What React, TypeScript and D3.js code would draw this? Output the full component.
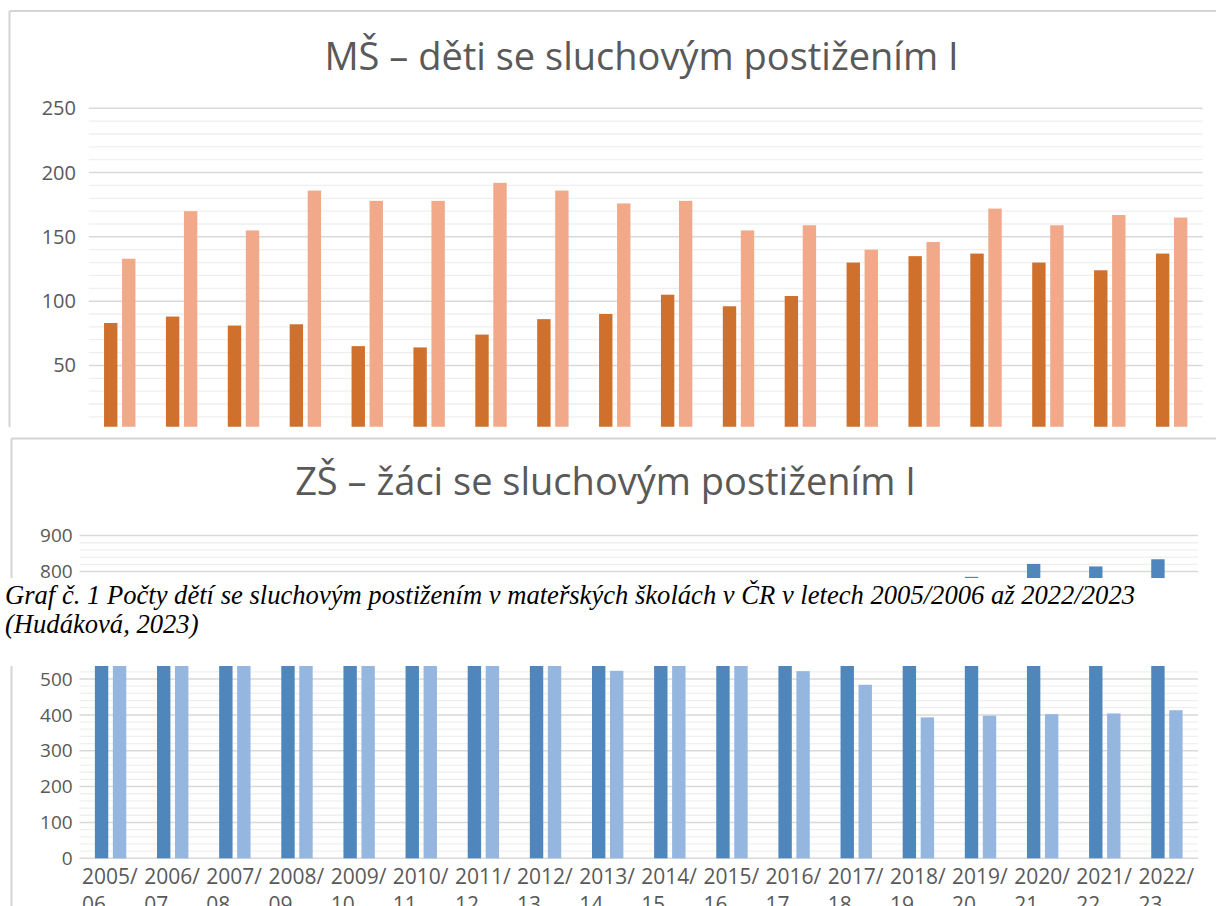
import React from 'react';
import * as d3 from 'd3';

const categories = ['2005/06','2006/07','2007/08','2008/09','2009/10','2010/11','2011/12','2012/13','2013/14','2014/15','2015/16','2016/17','2017/18','2018/19','2019/20','2020/21','2021/22','2022/23'];
const msDark = [83,88,81,82,65,64,74,86,90,105,96,104,130,135,137,130,124,137];
const msLight = [133,170,155,186,178,178,192,186,176,178,155,159,140,146,172,159,167,165];
const zsDark = [712,698,686,671,655,648,652,661,668,689,701,716,734,757,785,821,814,834];
const zsLight = [622,610,597,585,576,570,566,559,523,551,545,522,484,393,398,402,404,413];
const msTicks = [50,100,150,200,250];
// 600 and 700 lie under the caption band, so only the visible labels are listed
const zsTicks = [0,100,200,300,400,500,800,900];
const msTitle = 'MŠ – děti se sluchovým postižením I';
const zsTitle = 'ZŠ – žáci se sluchovým postižením I';
const captionLine1 = 'Graf č. 1 Počty dětí se sluchovým postižením v mateřských školách v ČR v letech 2005/2006 až 2022/2023';
const captionLine2 = '(Hudáková, 2023)';

const TEXT = '#595959';
const MAJOR = '#d9d9d9';
const MINOR = '#efefef';
const BORDER = '#d4d4d4';
const FONT = '"Open Sans", sans-serif';

function Chart({dark, light, colors, x0, x1, y0, y1, vmax, majorStep, ticks, minorStep, labelX, labelSize, clipBottom, id}) {
  const x = d3.scaleBand().domain(categories).range([x0, x1]).paddingInner(0).paddingOuter(0);
  const groupW = 31.4;
  const xs = d3.scaleBand().domain(['a','b']).range([-groupW/2, groupW/2]).paddingInner(0.256);
  const y = d3.scaleLinear().domain([0, vmax]).range([y0, y1]);
  const majors = d3.range(0, vmax + 0.001, majorStep);
  const minors = d3.range(0, vmax + 0.001, minorStep).filter(v => v % majorStep !== 0);
  return (
    <g clipPath={clipBottom ? `url(#${id})` : undefined}>
      {clipBottom ? (
        <defs>
          <clipPath id={id}><rect x={0} y={0} width={1216} height={clipBottom} /></clipPath>
        </defs>
      ) : null}
      {minors.map(v => (
        <line key={'m'+v} x1={x0} x2={x1} y1={y(v)} y2={y(v)} stroke={MINOR} strokeWidth={1.3} />
      ))}
      {majors.map(v => (
        <line key={'M'+v} x1={x0} x2={x1} y1={y(v)} y2={y(v)} stroke={MAJOR} strokeWidth={1.5} />
      ))}
      {ticks.map(v => (
        <text key={'t'+v} x={labelX} y={y(v)} dy="0.35em" textAnchor="end" fontFamily={FONT} fontSize={labelSize} fill={TEXT}>{v}</text>
      ))}
      {categories.map((c, i) => {
        const cx = (x(c) as number) + x.bandwidth()/2;
        return (
          <g key={c}>
            <rect x={cx + (xs('a') as number)} width={xs.bandwidth()} y={y(dark[i])} height={y(0) - y(dark[i])} fill={colors[0]} />
            <rect x={cx + (xs('b') as number)} width={xs.bandwidth()} y={y(light[i])} height={y(0) - y(light[i])} fill={colors[1]} />
          </g>
        );
      })}
    </g>
  );
}

export default function App() {
  const zx = d3.scaleBand().domain(categories).range([79.5, 1198]);
  return (
    <svg width={1216} height={906} style={{position: 'absolute', left: 0, top: 0, background: '#fff'}}>
      <rect x={0} y={0} width={1216} height={906} fill="#fff" />
      {/* MŠ panel */}
      <line x1={9.5} x2={1216} y1={11} y2={11} stroke={BORDER} strokeWidth={2} />
      <line x1={9.5} x2={9.5} y1={11} y2={427} stroke={BORDER} strokeWidth={2} />
      <text x={641.5} y={69.5} textAnchor="middle" fontFamily={FONT} fontSize={38} fill={TEXT}>{msTitle}</text>
      <Chart id="clipMs" dark={msDark} light={msLight} colors={['#d0702d', '#f1a98a']}
        x0={88.8} x1={1202.6} y0={429.7} y1={108.3} vmax={250} majorStep={50} ticks={msTicks} minorStep={10}
        labelX={76} labelSize={20} clipBottom={426.7} />

      {/* ZŠ panel */}
      <line x1={11.5} x2={1216} y1={438.5} y2={438.5} stroke={BORDER} strokeWidth={2} />
      <line x1={11.5} x2={11.5} y1={438.5} y2={906} stroke={BORDER} strokeWidth={2} />
      <text x={605.5} y={494.5} textAnchor="middle" fontFamily={FONT} fontSize={38} fill={TEXT}>{zsTitle}</text>
      <Chart id="clipZs" dark={zsDark} light={zsLight} colors={['#4f87bd', '#95b7df']}
        x0={79.5} x1={1198} y0={858.3} y1={535.6} vmax={900} majorStep={100} ticks={zsTicks} minorStep={20}
        labelX={72.7} labelSize={19} clipBottom={0} />
      {categories.map(c => {
        const cx = (zx(c) as number) + zx.bandwidth()/2;
        const [a, b] = c.split('/');
        return (
          <g key={'xl'+c} fontFamily={FONT} fontSize={21} fill={TEXT}>
            <text x={cx - 28.5} y={883.5}>{a + '/'}</text>
            <text x={cx - 28.5} y={911.5}>{b}</text>
          </g>
        );
      })}

      {/* caption band overlaying the chart */}
      <rect x={0} y={578} width={1216} height={88} fill="#fff" />
      <g fontFamily='"Liberation Serif", "Times New Roman", serif' fontStyle="italic" fontSize={26.6} fill="#000">
        <text x={5} y={604}>{captionLine1}</text>
        <text x={5} y={633}>{captionLine2}</text>
      </g>
    </svg>
  );
}
